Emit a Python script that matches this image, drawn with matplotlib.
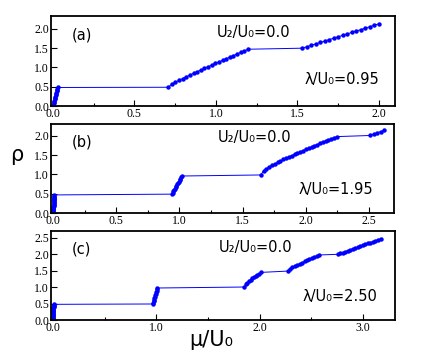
import numpy as np
import matplotlib
matplotlib.use("Agg")
import matplotlib.pyplot as plt
from matplotlib.ticker import MultipleLocator, FormatStrFormatter

# ---- data (mu/U0, rho) ----
# panel (a), lambda/U0 = 0.95
mu_a = [0.0, 0.002, 0.004, 0.006, 0.008, 0.010, 0.012, 0.014, 0.016, 0.018, 0.020,
        0.022, 0.024, 0.026, 0.028,
        0.707, 0.729, 0.752, 0.774, 0.796, 0.818, 0.841, 0.863, 0.885, 0.908, 0.930,
        0.952, 0.975, 0.997, 1.019, 1.042, 1.064, 1.086, 1.108, 1.131, 1.153, 1.175, 1.198,
        1.530, 1.558, 1.585, 1.613, 1.641, 1.668, 1.696, 1.724, 1.751, 1.779, 1.807,
        1.834, 1.862, 1.890, 1.917, 1.945, 1.972, 2.000]
rho_a = [0.0, 0.03, 0.07, 0.10, 0.14, 0.17, 0.21, 0.24, 0.28, 0.31, 0.35,
         0.38, 0.42, 0.45, 0.48,
         0.486, 0.563, 0.616, 0.665, 0.712, 0.758, 0.803, 0.847, 0.890, 0.934, 0.976,
         1.019, 1.061, 1.103, 1.144, 1.186, 1.227, 1.268, 1.309, 1.350, 1.391, 1.431, 1.472,
         1.499, 1.536, 1.573, 1.610, 1.647, 1.684, 1.722, 1.759, 1.796, 1.833, 1.870,
         1.907, 1.944, 1.981, 2.018, 2.056, 2.093, 2.130]

# panel (b), lambda/U0 = 1.95
mu_b = [0.0, 0.0005, 0.001, 0.0015, 0.002, 0.0025, 0.003, 0.0035, 0.004, 0.0045, 0.005,
        0.0055, 0.006, 0.0065, 0.007, 0.0075, 0.008, 0.0085, 0.009, 0.0095, 0.010,
        0.940, 0.946, 0.952, 0.958, 0.965, 0.971, 0.977, 0.983, 0.989, 0.995, 1.002,
        1.008, 1.014, 1.020,
        1.644, 1.666, 1.689, 1.711, 1.733, 1.756, 1.778, 1.800, 1.823, 1.845, 1.867,
        1.890, 1.912, 1.934, 1.957, 1.979, 2.001, 2.024, 2.046, 2.068, 2.091, 2.113,
        2.135, 2.158, 2.180, 2.202, 2.225, 2.247,
        2.510, 2.538, 2.565, 2.593, 2.620]
rho_b = [0.0, 0.024, 0.047, 0.071, 0.094, 0.118, 0.141, 0.165, 0.188, 0.212, 0.235,
         0.259, 0.282, 0.306, 0.329, 0.353, 0.376, 0.400, 0.423, 0.447, 0.470,
         0.490, 0.526, 0.562, 0.599, 0.635, 0.671, 0.707, 0.743, 0.780, 0.816, 0.852,
         0.888, 0.924, 0.960,
         0.987, 1.090, 1.145, 1.192, 1.235, 1.276, 1.314, 1.351, 1.388, 1.423, 1.457,
         1.491, 1.524, 1.556, 1.589, 1.620, 1.652, 1.683, 1.714, 1.744, 1.775, 1.805,
         1.834, 1.864, 1.894, 1.923, 1.952, 1.981,
         2.010, 2.045, 2.078, 2.110, 2.140]

# panel (c), lambda/U0 = 2.50
mu_c = [0.0, 0.0003, 0.0005, 0.0008, 0.001, 0.0013, 0.0015, 0.0018, 0.002, 0.0023, 0.0025,
        0.0028, 0.003, 0.0033, 0.0035, 0.0038, 0.004, 0.0043, 0.0045, 0.0048, 0.005,
        0.965, 0.969, 0.973, 0.977, 0.981, 0.985, 0.990, 0.994, 0.998, 1.002, 1.006, 1.010,
        1.850, 1.866, 1.882, 1.898, 1.914, 1.930, 1.946, 1.962, 1.978, 1.994, 2.010,
        2.270, 2.293, 2.317, 2.340, 2.364, 2.387, 2.411, 2.434, 2.458, 2.481, 2.505,
        2.528, 2.552, 2.575,
        2.756, 2.780, 2.805, 2.829, 2.853, 2.878, 2.902, 2.926, 2.951, 2.975, 2.999,
        3.024, 3.048, 3.072, 3.097, 3.121, 3.145, 3.170]
rho_c = [0.0, 0.024, 0.048, 0.072, 0.096, 0.120, 0.144, 0.168, 0.192, 0.216, 0.240,
         0.264, 0.288, 0.312, 0.336, 0.360, 0.384, 0.408, 0.432, 0.456, 0.480,
         0.490, 0.534, 0.578, 0.623, 0.667, 0.711, 0.755, 0.799, 0.844, 0.888, 0.932, 0.976,
         1.006, 1.089, 1.139, 1.183, 1.225, 1.265, 1.303, 1.341, 1.378, 1.415, 1.450,
         1.490, 1.557, 1.600, 1.640, 1.677, 1.713, 1.748, 1.783, 1.816, 1.850, 1.883,
         1.915, 1.948, 1.980,
         2.000, 2.028, 2.055, 2.083, 2.111, 2.138, 2.166, 2.194, 2.221, 2.249, 2.276,
         2.304, 2.332, 2.359, 2.387, 2.415, 2.442, 2.470]

tags = ["(a)", "(b)", "(c)"]
lam_labels = ["λ/U₀=0.95", "λ/U₀=1.95", "λ/U₀=2.50"]
u2_label = "U₂/U₀=0.0"

fig = plt.figure(figsize=(4.36, 3.51), dpi=100)

# axes rectangles [left, bottom, width, height] in figure fraction
rects = [[0.117, 0.698, 0.789, 0.256],
         [0.117, 0.393, 0.787, 0.254],
         [0.117, 0.088, 0.789, 0.254]]
xlims = [(-0.012, 2.1), (-0.016, 2.70), (-0.02, 3.31)]
ylims = [(0, 2.33), (0, 2.31), (0, 2.71)]
xmaj = [0.5, 0.5, 1.0]
xmin = [0.25, 0.25, 0.5]
txt_pos = [((0.06, 0.79), (0.483, 0.82), (0.738, 0.29)),
           ((0.06, 0.80), (0.486, 0.85), (0.72, 0.26)),
           ((0.06, 0.80), (0.488, 0.82), (0.73, 0.26))]

data = [(mu_a, rho_a), (mu_b, rho_b), (mu_c, rho_c)]

for i in range(3):
    ax = fig.add_axes(rects[i])
    mu, rho = data[i]
    ax.plot(mu, rho, '-', color='blue', lw=0.7)
    ax.plot(mu, rho, 'o', color='blue', ms=3.2, mew=0)
    ax.set_xlim(*xlims[i])
    ax.set_ylim(*ylims[i])
    ax.xaxis.set_major_locator(MultipleLocator(xmaj[i]))
    ax.xaxis.set_minor_locator(MultipleLocator(xmin[i]))
    ax.yaxis.set_major_locator(MultipleLocator(0.5))
    ax.xaxis.set_major_formatter(FormatStrFormatter('%.1f'))
    ax.yaxis.set_major_formatter(FormatStrFormatter('%.1f'))
    ax.tick_params(direction='in', length=4, width=0.8, labelsize=8.5, pad=1.5)
    ax.tick_params(which='minor', direction='in', length=2.5, width=0.8)
    for lab in ax.get_xticklabels() + ax.get_yticklabels():
        lab.set_family('Liberation Serif')
    for sp in ax.spines.values():
        sp.set_linewidth(1.3)
    p_tag, p_u2, p_lam = txt_pos[i]
    ax.text(p_tag[0], p_tag[1], tags[i], transform=ax.transAxes, fontsize=10.5,
            ha='left', va='center')
    ax.text(p_u2[0], p_u2[1], u2_label, transform=ax.transAxes, fontsize=10.5,
            ha='left', va='center')
    ax.text(p_lam[0], p_lam[1], lam_labels[i], transform=ax.transAxes, fontsize=10.5,
            ha='left', va='center')

fig.text(17 / 436, 1 - 155 / 351, "ρ", fontsize=15, ha='center', va='center')
fig.text(211 / 436, 1 - 340 / 351, "μ/U₀", fontsize=15, ha='center', va='center')

fig.savefig("out.png", dpi=100)
